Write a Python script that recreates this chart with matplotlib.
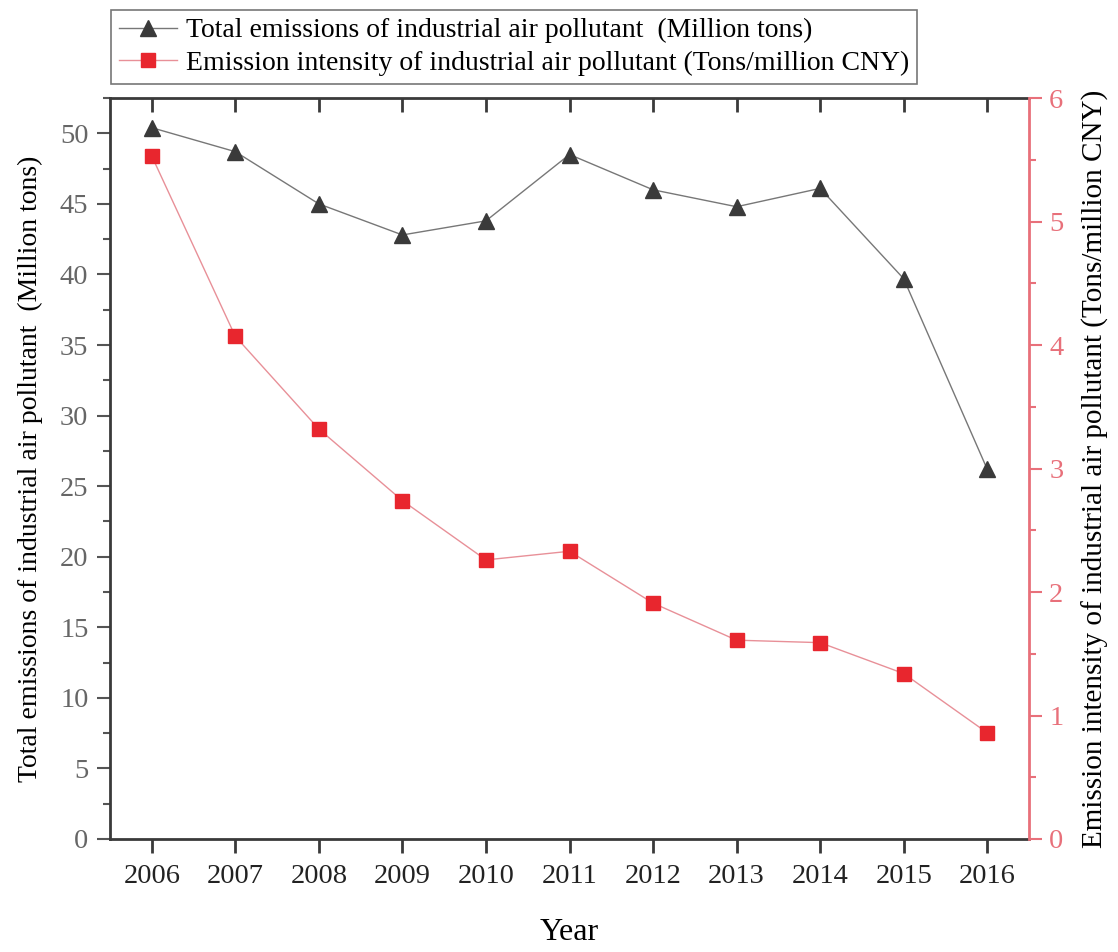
import numpy as np
import matplotlib.pyplot as plt
from matplotlib.ticker import MultipleLocator

plt.rcParams['font.family'] = ['Liberation Serif', 'DejaVu Serif']

# Yearly data for industrial air pollutant emissions.
years = [2006, 2007, 2008, 2009, 2010, 2011, 2012, 2013, 2014, 2015, 2016]
total_emissions = [50.4, 48.7, 45.0, 42.8, 43.8, 48.5, 46.0, 44.8, 46.1, 39.7, 26.2]
emission_intensity = [5.53, 4.07, 3.32, 2.74, 2.26, 2.33, 1.91, 1.61, 1.59, 1.34, 0.86]

black = '#3a3a3a'
red = '#e8262e'
pink = '#e8707a'

fig = plt.figure(figsize=(11.18, 9.52), dpi=100)
ax = fig.add_axes([0.0984, 0.1187, 0.822, 0.7783])
ax2 = ax.twinx()

l1, = ax.plot(years, total_emissions, color='#777777', lw=1.0, marker='^',
              ms=11.5, mfc=black, mec=black, zorder=3)
l2, = ax2.plot(years, emission_intensity, color='#e89098', lw=1.0, marker='s',
               ms=9.5, mfc=red, mec=red, zorder=3)

# Left axis (total emissions).
ax.set_xlim(2005.5, 2016.5)
ax.set_ylim(0, 52.5)
ax.set_xticks(years)
ax.yaxis.set_major_locator(MultipleLocator(5))
ax.yaxis.set_minor_locator(MultipleLocator(2.5))
ax.tick_params(axis='x', which='major', direction='out', length=10, width=2,
               color=black, labelsize=20.5, labelcolor='#222222', pad=8)
ax.tick_params(axis='x', which='major', top=True, labeltop=False)
ax.tick_params(axis='y', which='major', direction='out', length=9.5, width=1.5,
               color='#555555', labelsize=20.5, labelcolor='#666666', pad=6)
ax.tick_params(axis='y', which='minor', direction='out', length=5, width=1.5,
               color='#555555')
for side in ['left', 'bottom', 'top']:
    ax.spines[side].set_linewidth(2)
    ax.spines[side].set_color(black)
ax.spines['right'].set_visible(False)
ax.set_ylabel('Total emissions of industrial air pollutant  (Million tons)',
              fontsize=20, labelpad=12)
ax.set_xlabel('Year', fontsize=23, labelpad=21)

# Top ticks point into the plot.
for t in ax.xaxis.get_major_ticks():
    t.tick2line.set_marker(3)
    t.tick2line.set_markersize(10)
    t.tick2line.set_markeredgewidth(2)
    t.tick2line.set_color(black)

# Right axis (emission intensity).
ax2.set_ylim(0, 6)
ax2.yaxis.set_major_locator(MultipleLocator(1))
ax2.yaxis.set_minor_locator(MultipleLocator(0.5))
ax2.tick_params(axis='y', which='major', direction='out', length=9.5, width=1.5,
                color=pink, labelsize=20.5, labelcolor=pink, pad=5)
ax2.tick_params(axis='y', which='minor', direction='out', length=5, width=1.5,
                color=pink)
ax2.spines['right'].set_color(pink)
ax2.spines['right'].set_linewidth(2)
for side in ['left', 'bottom', 'top']:
    ax2.spines[side].set_visible(False)
ax2.set_ylabel('Emission intensity of industrial air pollutant (Tons/million CNY)',
               fontsize=21, labelpad=13)

leg = fig.legend([l1, l2],
                 ['Total emissions of industrial air pollutant  (Million tons)',
                  'Emission intensity of industrial air pollutant (Tons/million CNY)'],
                 loc='upper left', bbox_to_anchor=(0.099, 0.99), fontsize=20,
                 frameon=True, fancybox=False, edgecolor='#555555',
                 handlelength=2.1, handletextpad=0.3, borderpad=0.3,
                 labelspacing=0.25, borderaxespad=0)
leg.get_frame().set_linewidth(1.2)

fig.savefig('out.png', dpi=100)
